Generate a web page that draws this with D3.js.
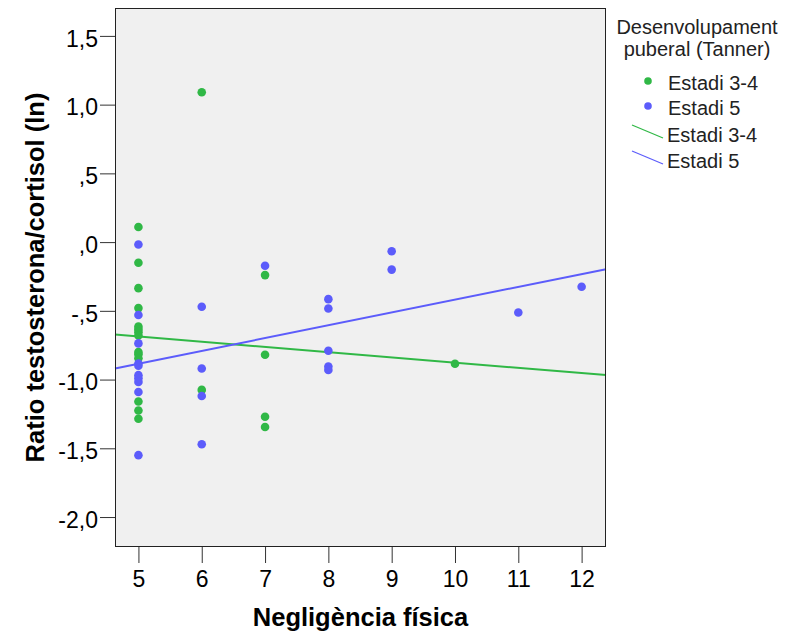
<!DOCTYPE html>
<meta charset="utf-8">
<script src="https://cdn.jsdelivr.net/npm/d3@7"></script>
<style>
body { margin: 0; background: #fff; }
text { font-family: "Liberation Sans", Arial, sans-serif; fill: #000; }
.tick text { font-size: 23px; }
.title { font-size: 25.5px; font-weight: bold; }
.leg { font-size: 20px; fill: #222; }
</style>
<body>
<script>

// data
var groups = ["Estadi 3-4", "Estadi 5"]
var colors = ["#30b846", "#5c5cfb"]

var green_x = [5,5,5,5,5,5,5,5,5,5,5,5,5,5,6,6,7,7,7,7,10]
var green_y = [0.11,-0.15,-0.335,-0.48,-0.615,-0.635,-0.655,-0.68,-0.80,-0.815,-0.845,-1.16,-1.225,-1.285,
               1.09,-1.075,
               -0.24,-0.82,-1.27,-1.345,
               -0.885]

var blue_x = [5,5,5,5,5,5,5,5,5,5,6,6,6,6,7,8,8,8,8,8,9,9,11,12]
var blue_y = [-0.017,-0.53,-0.737,-0.883,-0.90,-0.968,-0.99,-1.017,-1.09,-1.55,
              -0.47,-0.92,-1.12,-1.47,
              -0.172,
              -0.415,-0.483,-0.79,-0.905,-0.93,
              -0.066,-0.20,
              -0.512,-0.325]

// fit lines: [intercept, slope]
var fit = [[-0.497, -0.038], [-1.350, 0.0931]]

var xTicks = [5, 6, 7, 8, 9, 10, 11, 12]
var yTicks = [1.5, 1.0, 0.5, 0.0, -0.5, -1.0, -1.5, -2.0]

var W = 796, H = 632
var mLeft = 115, mRight = 606, mTop = 8, mBottom = 547

var svg = d3.select("body").append("svg").attr("width", W).attr("height", H)

var x = d3.scaleLinear().domain([4.63, 12.385]).range([mLeft, mRight])
var y = d3.scaleLinear().domain([-2.218, 1.703]).range([mBottom, mTop])

svg.append("rect")
   .attr("x", mLeft).attr("y", mTop)
   .attr("width", mRight - mLeft).attr("height", mBottom - mTop)
   .attr("fill", "#f0f0f0")

// SPSS style: ",5"  "-1,0"
function fmt(d) {
  var s = d3.format(".1f")(d).replace("\u2212", "-").replace(".", ",")
  return s.replace(/^0,/, ",").replace(/^-0,/, "-,")
}

var ya = svg.append("g")
   .attr("transform", "translate(" + mLeft + ",0)")
   .call(d3.axisLeft(y).tickValues(yTicks).tickFormat(fmt).tickSize(15).tickPadding(2))
ya.select(".domain").remove()
ya.selectAll(".tick line").attr("stroke", "#333")
ya.selectAll(".tick text").attr("dy", "0.45em")

var xa = svg.append("g")
   .attr("transform", "translate(0," + mBottom + ")")
   .call(d3.axisBottom(x).tickValues(xTicks).tickSize(16).tickPadding(8))
xa.select(".domain").remove()
xa.selectAll(".tick line").attr("stroke", "#333")

var plot = svg.append("g")

var series = [d3.zip(green_x, green_y), d3.zip(blue_x, blue_y)]

// fit lines
fit.forEach(function(f, i) {
  var xs = x.domain()
  plot.append("line")
      .attr("x1", x(xs[0])).attr("y1", y(f[0] + f[1] * xs[0]))
      .attr("x2", x(xs[1])).attr("y2", y(f[0] + f[1] * xs[1]))
      .attr("stroke", colors[i]).attr("stroke-width", 2)
})

series.forEach(function(s, i) {
  plot.selectAll(".p" + i).data(s).enter().append("circle")
      .attr("cx", function(d) { return x(d[0]) })
      .attr("cy", function(d) { return y(d[1]) })
      .attr("r", 4.3)
      .attr("fill", colors[i])
})

svg.append("rect")
   .attr("x", mLeft + 0.5).attr("y", mTop + 0.5)
   .attr("width", mRight - mLeft - 1).attr("height", mBottom - mTop - 1)
   .attr("fill", "none").attr("stroke", "#222").attr("stroke-width", 1)

svg.append("text").attr("class", "title")
   .attr("x", (mLeft + mRight) / 2).attr("y", 626)
   .attr("text-anchor", "middle")
   .text("Negligència física")

svg.append("text").attr("class", "title")
   .attr("transform", "translate(44," + (mTop + mBottom) / 2 + ") rotate(-90)")
   .attr("text-anchor", "middle")
   .text("Ratio testosterona/cortisol (ln)")

// legend
var leg = svg.append("g")
leg.append("text").attr("class", "leg").attr("x", 697).attr("y", 34).attr("text-anchor", "middle").text("Desenvolupament")
leg.append("text").attr("class", "leg").attr("x", 697).attr("y", 56).attr("text-anchor", "middle").text("puberal (Tanner)")

var rows = [81, 106]
groups.forEach(function(g, i) {
  leg.append("circle").attr("cx", 648).attr("cy", rows[i]).attr("r", 3.8).attr("fill", colors[i])
  leg.append("text").attr("class", "leg").attr("x", 668).attr("y", rows[i] + 8.5).text(g)
})
var lrows = [133, 159]
groups.forEach(function(g, i) {
  leg.append("line").attr("x1", 632).attr("y1", lrows[i] - 8).attr("x2", 663).attr("y2", lrows[i] + 5)
     .attr("stroke", colors[i]).attr("stroke-width", 1.2)
  leg.append("text").attr("class", "leg").attr("x", 667).attr("y", lrows[i] + 8.5).text(g)
})

</script>
</body>
